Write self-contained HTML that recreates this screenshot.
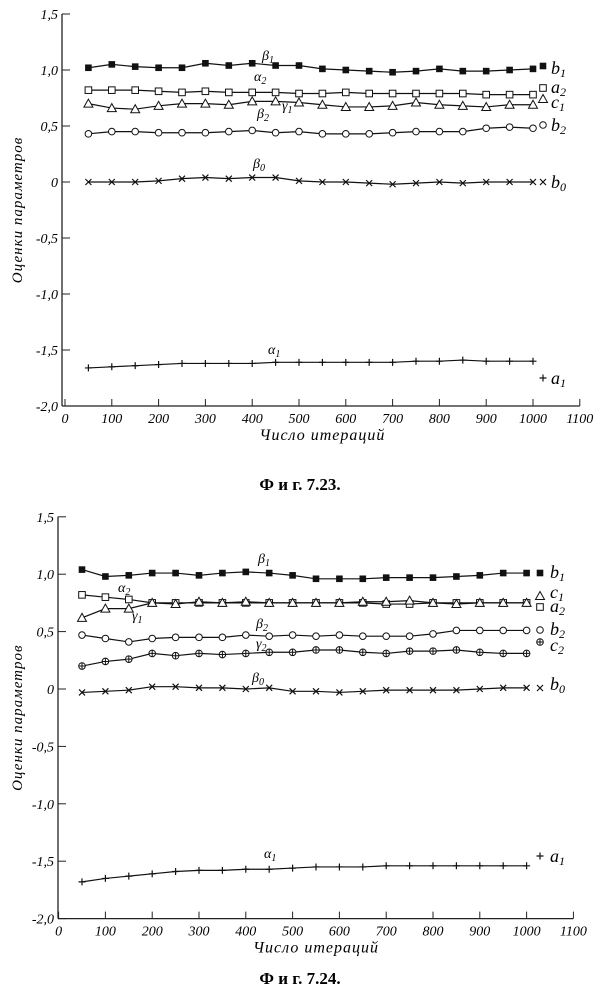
<!DOCTYPE html>
<html><head><meta charset="utf-8"><style>
html,body{margin:0;padding:0;background:#fff;}
svg{display:block;font-family:"Liberation Serif",serif;font-style:italic;}
</style></head><body>
<svg id="s" width="600" height="998" viewBox="0 0 600 998" xmlns="http://www.w3.org/2000/svg"></svg>
<script>
var s=document.getElementById('s');var h='';
function T(x,y,t,sz,extra){h+='<text x="'+x+'" y="'+y+'" font-size="'+(sz||13)+'" '+(extra||'')+'>'+t+'</text>';}
function chart(c){
 var X=function(v){return c.x0+c.kx*v},Y=function(v){return c.y0-c.ky*v};
 var ax=c.ax, yb=Y(-2), yt=Y(1.5);
 h+='<line x1="'+ax+'" y1="'+yt+'" x2="'+ax+'" y2="'+yb+'" stroke="#222" stroke-width="1.3"/>';
 h+='<line x1="'+ax+'" y1="'+yb+'" x2="'+X(1100)+'" y2="'+yb+'" stroke="#222" stroke-width="1.3"/>';
 var labs=['1,5','1,0','0,5','0','-0,5','-1,0','-1,5','-2,0'];
 for(var i=0;i<8;i++){var v=1.5-0.5*i,y=Y(v);
  h+='<line x1="'+ax+'" y1="'+y+'" x2="'+(ax+8)+'" y2="'+y+'" stroke="#222"/>';
  T(ax-4,y+5,labs[i],14,'text-anchor="end"');}
 for(var k=0;k<=11;k++){var x=X(k*100);
  h+='<line x1="'+x+'" y1="'+yb+'" x2="'+x+'" y2="'+(yb-7)+'" stroke="#222"/>';
  T(x,yb+17,k*100,14,'text-anchor="middle"');}
 T((X(0)+X(1100))/2,yb+34,'Число итераций',16,'text-anchor="middle" letter-spacing="1"');
 T(22,Y(-0.25),'Оценки параметров',15,'text-anchor="middle" transform="rotate(-90 22 '+Y(-0.25)+')" letter-spacing="1"');
 T(300,c.cap,'Ф и г.  7.'+c.num+'.',17,'text-anchor="middle" font-weight="bold" font-style="normal"');
 c.series.forEach(function(sr){
  var pts=sr.d.map(function(v,i){return [X(50+50*i),Y(v)]});
  h+='<polyline fill="none" stroke="#111" stroke-width="1.2" points="'+pts.map(function(p){return p.join(',')}).join(' ')+'"/>';
  pts.forEach(function(p){mk(sr.m,p[0],p[1]);});
  mk(sr.m,c.ex,sr.my);
  T(c.lx,sr.ly,sr.l,18);
 });
 c.cl.forEach(function(a){T(a[0],a[1],a[2],14);});
}
function mk(m,x,y){var r=3.3;
 if(m=='fs')h+='<rect x="'+(x-r)+'" y="'+(y-r)+'" width="'+2*r+'" height="'+2*r+'" fill="#111"/>';
 else if(m=='os')h+='<rect x="'+(x-r)+'" y="'+(y-r)+'" width="'+2*r+'" height="'+2*r+'" fill="#fff" stroke="#111"/>';
 else if(m=='tr')h+='<polygon points="'+x+','+(y-4.5)+' '+(x-4.5)+','+(y+3.5)+' '+(x+4.5)+','+(y+3.5)+'" fill="#fff" stroke="#111"/>';
 else if(m=='oc')h+='<circle cx="'+x+'" cy="'+y+'" r="'+r+'" fill="#fff" stroke="#111"/>';
 else if(m=='op')h+='<circle cx="'+x+'" cy="'+y+'" r="'+r+'" fill="#fff" stroke="#111"/><path d="M'+(x-r)+' '+y+'H'+(x+r)+'M'+x+' '+(y-r)+'V'+(y+r)+'" stroke="#111"/>';
 else if(m=='x')h+='<path d="M'+(x-3)+' '+(y-3)+'L'+(x+3)+' '+(y+3)+'M'+(x-3)+' '+(y+3)+'L'+(x+3)+' '+(y-3)+'" stroke="#111" stroke-width="1.2"/>';
 else if(m=='p')h+='<path d="M'+(x-3.5)+' '+y+'H'+(x+3.5)+'M'+x+' '+(y-3.5)+'V'+(y+3.5)+'" stroke="#111" stroke-width="1.2"/>';
}
chart({x0:65,kx:0.468,y0:182,ky:112,ax:62,ex:543,lx:551,cap:490,num:23,series:[
 {m:'fs',my:66,l:'b<tspan font-size="12" dy="3">1</tspan>',ly:74,d:[1.02,1.05,1.03,1.02,1.02,1.06,1.04,1.06,1.04,1.04,1.01,1.0,0.99,0.98,0.99,1.01,0.99,0.99,1.0,1.01]},
 {m:'os',my:88,l:'a<tspan font-size="12" dy="3">2</tspan>',ly:93,d:[0.82,0.82,0.82,0.81,0.80,0.81,0.80,0.80,0.80,0.79,0.79,0.80,0.79,0.79,0.79,0.79,0.79,0.78,0.78,0.78]},
 {m:'tr',my:99,l:'c<tspan font-size="12" dy="3">1</tspan>',ly:108,d:[0.70,0.66,0.65,0.68,0.70,0.70,0.69,0.72,0.72,0.71,0.69,0.67,0.67,0.68,0.71,0.69,0.68,0.67,0.69,0.69]},
 {m:'oc',my:125,l:'b<tspan font-size="12" dy="3">2</tspan>',ly:131,d:[0.43,0.45,0.45,0.44,0.44,0.44,0.45,0.46,0.44,0.45,0.43,0.43,0.43,0.44,0.45,0.45,0.45,0.48,0.49,0.48]},
 {m:'x',my:182,l:'b<tspan font-size="12" dy="3">0</tspan>',ly:188,d:[0,0,0,0.01,0.03,0.04,0.03,0.04,0.04,0.01,0,0,-0.01,-0.02,-0.01,0,-0.01,0,0,0]},
 {m:'p',my:378,l:'a<tspan font-size="12" dy="3">1</tspan>',ly:384,d:[-1.66,-1.65,-1.64,-1.63,-1.62,-1.62,-1.62,-1.62,-1.61,-1.61,-1.61,-1.61,-1.61,-1.61,-1.60,-1.60,-1.59,-1.60,-1.60,-1.60]}],
 cl:[[262,60,'β<tspan font-size="10" dy="3">1</tspan>'],[254,81,'α<tspan font-size="10" dy="3">2</tspan>'],[282,110,'γ<tspan font-size="10" dy="3">1</tspan>'],[257,118,'β<tspan font-size="10" dy="3">2</tspan>'],[253,168,'β<tspan font-size="10" dy="3">0</tspan>'],[268,354,'α<tspan font-size="10" dy="3">1</tspan>']]});
chart({x0:58.6,kx:0.468,y0:689,ky:114.8,ax:58,ex:540,lx:550,cap:984,num:24,series:[
 {m:'fs',my:573,l:'b<tspan font-size="12" dy="3">1</tspan>',ly:578,d:[1.04,0.98,0.99,1.01,1.01,0.99,1.01,1.02,1.01,0.99,0.96,0.96,0.96,0.97,0.97,0.97,0.98,0.99,1.01,1.01]},
 {m:'os',my:607,l:'a<tspan font-size="12" dy="3">2</tspan>',ly:612,d:[0.82,0.80,0.78,0.75,0.75,0.75,0.75,0.75,0.75,0.75,0.75,0.75,0.75,0.74,0.74,0.75,0.75,0.75,0.75,0.75]},
 {m:'tr',my:596,l:'c<tspan font-size="12" dy="3">1</tspan>',ly:598,d:[0.62,0.70,0.70,0.75,0.74,0.76,0.75,0.76,0.75,0.75,0.75,0.75,0.76,0.76,0.77,0.75,0.74,0.75,0.75,0.75]},
 {m:'oc',my:630,l:'b<tspan font-size="12" dy="3">2</tspan>',ly:635,d:[0.47,0.44,0.41,0.44,0.45,0.45,0.45,0.47,0.46,0.47,0.46,0.47,0.46,0.46,0.46,0.48,0.51,0.51,0.51,0.51]},
 {m:'op',my:642,l:'c<tspan font-size="12" dy="3">2</tspan>',ly:651,d:[0.20,0.24,0.26,0.31,0.29,0.31,0.30,0.31,0.32,0.32,0.34,0.34,0.32,0.31,0.33,0.33,0.34,0.32,0.31,0.31]},
 {m:'x',my:688,l:'b<tspan font-size="12" dy="3">0</tspan>',ly:690,d:[-0.03,-0.02,-0.01,0.02,0.02,0.01,0.01,0,0.01,-0.02,-0.02,-0.03,-0.02,-0.01,-0.01,-0.01,-0.01,0,0.01,0.01]},
 {m:'p',my:856,l:'a<tspan font-size="12" dy="3">1</tspan>',ly:862,d:[-1.68,-1.65,-1.63,-1.61,-1.59,-1.58,-1.58,-1.57,-1.57,-1.56,-1.55,-1.55,-1.55,-1.54,-1.54,-1.54,-1.54,-1.54,-1.54,-1.54]}],
 cl:[[258,563,'β<tspan font-size="10" dy="3">1</tspan>'],[118,592,'α<tspan font-size="10" dy="3">2</tspan>'],[132,620,'γ<tspan font-size="10" dy="3">1</tspan>'],[256,628,'β<tspan font-size="10" dy="3">2</tspan>'],[256,648,'γ<tspan font-size="10" dy="3">2</tspan>'],[252,682,'β<tspan font-size="10" dy="3">0</tspan>'],[264,858,'α<tspan font-size="10" dy="3">1</tspan>']]});
s.innerHTML=h;
</script>
</body></html>
